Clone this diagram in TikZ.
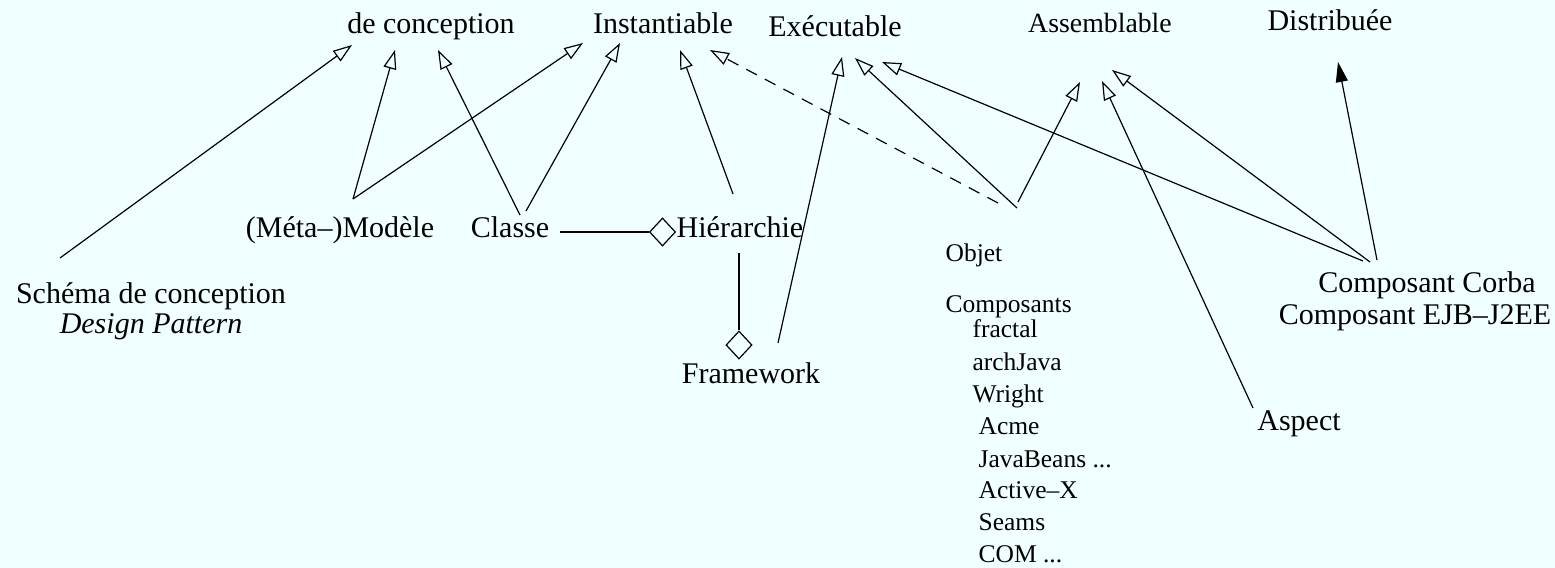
\documentclass[tikz,border=0pt]{standalone}
\usepackage{fontspec}
\setmainfont{Liberation Serif}
\usetikzlibrary{arrows.meta,shapes.geometric}
\definecolor{bg}{RGB}{240,255,255}
\begin{document}
\begin{tikzpicture}[
x=0.5pt, y=-0.5pt, line width=0.6pt,
every node/.style={inner sep=0pt, anchor=base, font=\fontsize{15}{18}\selectfont},
gen/.style={-{Triangle[open, length=9.5pt, width=6.5pt]}},
real/.style={gen, dash pattern=on 6pt off 4.5pt},
nav/.style={-{Triangle[length=10pt, width=6pt]}},
agg/.style={diamond, draw, fill=bg, minimum width=13pt, minimum height=14pt, anchor=center},
small/.style={font=\fontsize{12.75}{15}\selectfont, anchor=base west},
]
\useasboundingbox[fill=bg] (0,0) rectangle (1555,568);

% top row
\node (conc) at (431,33) {de conception};
\node (inst) at (663,33) {Instantiable};
\node (exec) at (835,36) {Exécutable};
\node[font=\fontsize{13.9}{16}\selectfont] (assem) at (1100,32) {Assemblable};
\node (distr) at (1330,30) {Distribuée};

% middle row
\node (modele) at (340,237) {(Méta--)Modèle};
\node (classe) at (510,237) {Classe};
\node (hier) at (740,237) {Hiérarchie};
\node[agg, anchor=east] (d1) at ([shift={(0,-5)}]hier.base west) {};
\node[agg] (d2) at (739,345) {};
\node (frame) at (751,383) {Framework};

\node (schema) at (151,303) {Schéma de conception};
\node (pattern) at (151,333) {\itshape Design Pattern};

% objets et composants
\node[small] (obj) at (945,261) {Objet};
\node[small] (comps) at (945,312) {Composants};
\node[small] (fractal) at (972,337) {fractal};
\node[small] (archjava) at (972,370) {archJava};
\node[small] (wright) at (972,402) {Wright};
\node[small] (acme) at (978,434) {Acme};
\node[small] (beans) at (978,467) {JavaBeans ...};
\node[small] (activex) at (978,498) {Active--X};
\node[small] (seams) at (978,530) {Seams};
\node[small] (com) at (978,562) {COM ...};

\node (corba) at (1427,292) {Composant Corba};
\node (ejb) at (1415,324) {Composant EJB--J2EE};
\node (aspect) at (1299,430) {Aspect};

% generalisations
\draw[gen] ([shift={(-91,-45)}]schema.base) -- ([shift={(-79,12)}]conc.base);
\draw[gen] ([shift={(13,-38)}]modele.base) -- ([shift={(-36,17)}]conc.base);
\draw[gen] ([shift={(13,-38)}]modele.base) -- ([shift={(-80,10)}]inst.base);
\draw[gen] ([shift={(10,-22)}]classe.base) -- ([shift={(7,17)}]conc.base);
\draw[gen] ([shift={(16,-26)}]classe.base) -- ([shift={(-43,10)}]inst.base);
\draw[gen] ([shift={(-7,-43)}]hier.base) -- ([shift={(17,17)}]inst.base);
\draw[real] ([shift={(53,-58)}]obj.base west) -- ([shift={(47,17)}]inst.base);
\draw[gen] ([shift={(27,-40)}]frame.base) -- ([shift={(7,21)}]exec.base);
\draw[gen] ([shift={(72,-53)}]obj.base west) -- ([shift={(20,22)}]exec.base);
\draw[gen] ([shift={(-64,-31)}]corba.base) -- ([shift={(47,26)}]exec.base);
\draw[gen] ([shift={(73,-59)}]obj.base west) -- ([shift={(-20,50)}]assem.base);
\draw[gen] ([shift={(-46,-22)}]aspect.base) -- ([shift={(2,49)}]assem.base);
\draw[gen] ([shift={(-57,-30)}]corba.base) -- ([shift={(12,38)}]assem.base);
\draw[nav] ([shift={(-50,-32)}]corba.base) -- ([shift={(8,32)}]distr.base);

% aggregations
\draw ([shift={(10,-5)}]classe.base east) -- (d1.west);
\draw ([shift={(-1,16)}]hier.base) -- (d2.north);
\end{tikzpicture}
\end{document}
